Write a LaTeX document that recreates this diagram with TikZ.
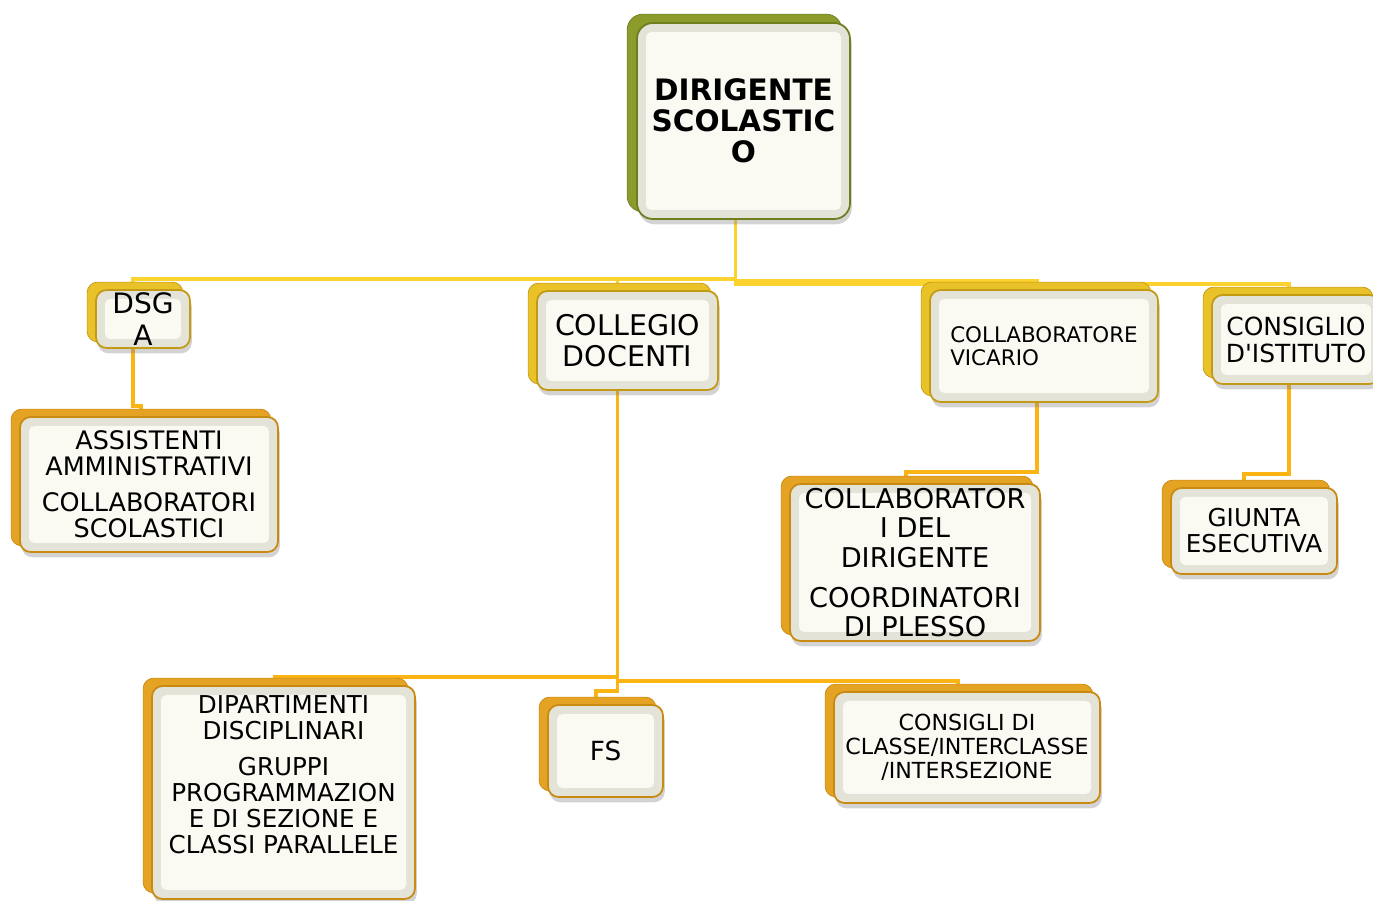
\documentclass[tikz,border=0pt]{standalone}
\usepackage{fontspec}
\setmainfont{DejaVu Sans}[Ligatures=TeXOff]
\usetikzlibrary{shadows, backgrounds}

\definecolor{dirgreen}{HTML}{8C9B2B}
\definecolor{dirline}{HTML}{6E7D1E}
\definecolor{goldback}{HTML}{E9C22A}
\definecolor{goldline}{HTML}{C39A14}
\definecolor{orangeback}{HTML}{E5A323}
\definecolor{orangeline}{HTML}{C98A12}
\definecolor{bevel}{HTML}{E4E3D8}
\definecolor{cream}{HTML}{FAF9F2}
\definecolor{connyellow}{HTML}{FCD22E}
\definecolor{connorange}{HTML}{FAB514}

\def\px{0.02cm}

\begin{document}
\begin{tikzpicture}[x=0.02cm, y=-0.02cm]
\tikzstyle{box}=[rounded corners=6pt, line width=1pt, align=center, inner sep=1pt,
  fill=bevel, drop shadow={shadow xshift=1pt, shadow yshift=-3pt, opacity=0.35},
  path picture={\fill[cream, rounded corners=3pt]
    ([shift={(9,9)}]path picture bounding box.north west) rectangle
    ([shift={(-9,-9)}]path picture bounding box.south east);}]
\tikzstyle{green box}=[box, draw=dirline, rounded corners=9pt]
\tikzstyle{gold box}=[box, draw=goldline]
\tikzstyle{orange box}=[box, draw=orangeline]
\tikzstyle{conn}=[line width=2.2pt, draw=connyellow]
\tikzstyle{conn2}=[line width=2.2pt, draw=connorange]

\useasboundingbox (0,0) rectangle (1373,901);

% Top of the chart
\node[green box, minimum width=213*\px, minimum height=196*\px,
  font=\fontsize{16.8}{17.6}\selectfont\bfseries] (dir) at (743.5,121) {DIRIGENTE\\SCOLASTIC\\O};

% Second row
\node[gold box, minimum width=94*\px, minimum height=58*\px, inner ysep=0pt,
  font=\fontsize{16}{18}\selectfont] (dsga) at (143,319) {DSG\\A};
\node[gold box, minimum width=181*\px, minimum height=99*\px,
  font=\fontsize{16.2}{17.6}\selectfont] (coll) at (627.5,340.5) {COLLEGIO\\DOCENTI};
\node[gold box, minimum width=228*\px, minimum height=112*\px, align=left,
  font=\fontsize{12.2}{13}\selectfont] (vic) at (1044,346) {COLLABORATORE\\VICARIO};
\node[gold box, minimum width=168*\px, minimum height=89*\px,
  font=\fontsize{14.2}{15.4}\selectfont] (cdi) at (1296,339.5) {CONSIGLIO\\D'ISTITUTO};

% Third row
\node[orange box, minimum width=258*\px, minimum height=135*\px,
  font=\fontsize{14.5}{14.8}\selectfont] (ata) at (149,484.5)
  {ASSISTENTI\\AMMINISTRATIVI\\[5.7pt]COLLABORATORI\\SCOLASTICI};
\node[orange box, minimum width=250*\px, minimum height=157*\px,
  font=\fontsize{15.5}{16.8}\selectfont] (cdd) at (915,562.5)
  {COLLABORATOR\\I DEL\\DIRIGENTE\\[6pt]COORDINATORI\\DI PLESSO};
\node[orange box, minimum width=166*\px, minimum height=86*\px,
  font=\fontsize{14}{14.8}\selectfont] (giunta) at (1254,531) {GIUNTA\\ESECUTIVA};

% Bottom row
\node[orange box, minimum width=263*\px, minimum height=213*\px,
  font=\fontsize{14}{14.8}\selectfont] (dip) at (283.5,792.5)
  {DIPARTIMENTI\\DISCIPLINARI\\[5.7pt]GRUPPI\\PROGRAMMAZION\\E DI SEZIONE E\\CLASSI PARALLELE\\[5.7pt]\mbox{}};
\node[orange box, minimum width=115*\px, minimum height=92*\px,
  font=\fontsize{15}{18}\selectfont] (fs) at (605.5,751) {FS};
\node[orange box, minimum width=266*\px, minimum height=111*\px,
  font=\fontsize{12.6}{13.7}\selectfont] (cdc) at (967,747.5)
  {CONSIGLI DI\\CLASSE/INTERCLASSE\\/INTERSEZIONE};

\begin{scope}[on background layer]
% Connectors
\draw[conn] ([shift={(-8,0)}]dir.south) -- ++(0,59) -| ([shift={(-10,0)}]dsga.north);
\draw[conn] ([shift={(-8,0)}]dir.south) -- ++(0,59) -| ([shift={(-10,0)}]coll.north);
\draw[conn] ([shift={(-8,0)}]dir.south) -- ++(0,61) -| ([shift={(-7,0)}]vic.north);
\draw[conn] ([shift={(-8,0)}]dir.south) -- ++(0,64) -| ([shift={(-7,0)}]cdi.north);
\draw[conn2] ([shift={(-10,0)}]dsga.south) -- ++(0,57) -| ([shift={(-8,0)}]ata.north);
\draw[conn2] ([shift={(-10,0)}]coll.south) -- ++(0,286) -| ([shift={(-9,0)}]dip.north);
\draw[conn2] ([shift={(-10,0)}]coll.south) -- ++(0,290) -| ([shift={(-9,0)}]cdc.north);
\draw[conn2] ([shift={(-10,0)}]coll.south) -- ++(0,300) -| ([shift={(-9.5,0)}]fs.north);
\draw[conn2] ([shift={(-7,0)}]vic.south) -- ++(0,69) -| ([shift={(-9,0)}]cdd.north);
\draw[conn2] ([shift={(-7,0)}]cdi.south) -- ++(0,89) -| ([shift={(-10,0)}]giunta.north);

% Back plates of the boxes
\fill[dirgreen, draw=dirline, rounded corners=9pt] ([shift={(-9,-8)}]dir.north west) rectangle ([shift={(-9,-8)}]dir.south east);
\foreach \name in {dsga, coll, vic, cdi}
  \filldraw[fill=goldback, draw=goldline, rounded corners=6pt]
    ([shift={(-8,-7)}]\name.north west) rectangle ([shift={(-8,-7)}]\name.south east);
\foreach \name in {ata, cdd, giunta, dip, fs, cdc}
  \filldraw[fill=orangeback, draw=orangeline, rounded corners=6pt]
    ([shift={(-8,-7)}]\name.north west) rectangle ([shift={(-8,-7)}]\name.south east);
\end{scope}

\end{tikzpicture}
\end{document}
